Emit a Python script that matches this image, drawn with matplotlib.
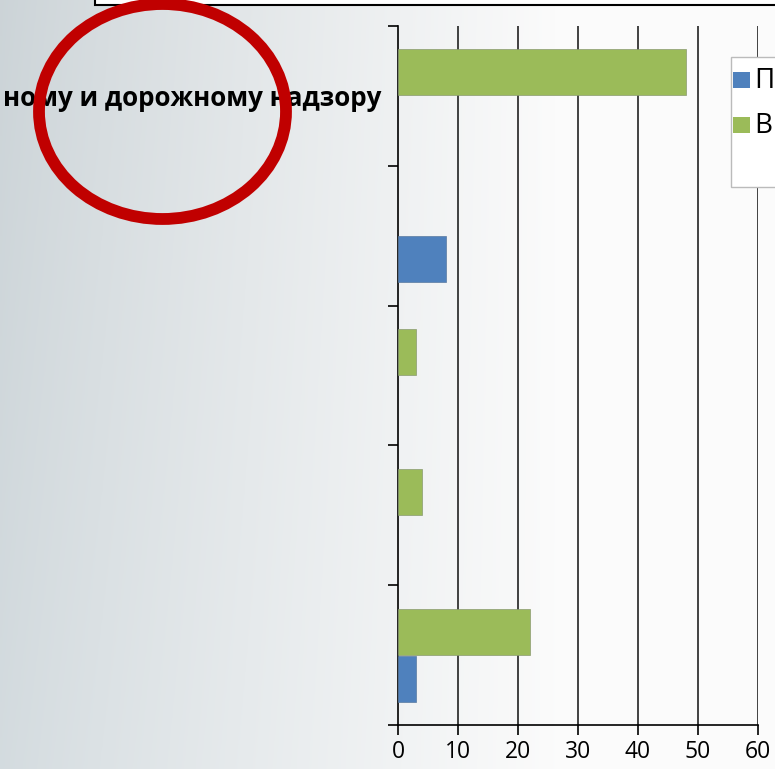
import numpy as np
import matplotlib
matplotlib.use('Agg')
import matplotlib.pyplot as plt
from matplotlib.patches import Rectangle, Ellipse

plt.rcParams['font.family'] = ['Open Sans', 'DejaVu Sans']

# данные
categories = ['ному и дорожному надзору', '', '', '', '']
series_names = ['П', 'В']
blue_vals = [0, 8, 0, 0, 3]
green_vals = [48, 0, 3, 4, 22]
colors = ['#4F81BD', '#9BBB59']
x_ticks = [0, 10, 20, 30, 40, 50, 60]

W, H = 775, 769
fig = plt.figure(figsize=(W / 100, H / 100), dpi=100)


def px(x, y):
    # пиксели (от левого верхнего угла) -> доли фигуры
    return x / W, 1 - y / H


# фон слайда (серый градиент)
bg = fig.add_axes([0, 0, 1, 1], zorder=-10)
xs = np.linspace(0, 1, 300)
ys = np.linspace(0, 1, 300)
gx, gy = np.meshgrid(xs, ys)
left = np.array([0.80, 0.83, 0.845])
right = np.array([0.985, 0.985, 0.985])
t = np.clip(gx / 0.72, 0, 1) ** 0.9
img = left[None, None, :] * (1 - t[..., None]) + right[None, None, :] * t[..., None]
img = img + 0.03 * (gy[..., None]) * (1 - t[..., None])
bg.imshow(np.clip(img, 0, 1), aspect='auto', extent=[0, 1, 0, 1])
bg.axis('off')

# диаграмма
ax = fig.add_axes([398 / W, 44 / H, (758 - 398) / W, (725 - 26) / H])
ax.set_facecolor('none')
y = np.arange(len(categories))
h = 0.33
g = np.array(green_vals)
b = np.array(blue_vals)
ax.barh(y - 0.168, g, height=h, color=colors[1],
        edgecolor=['#8a9a70' if v > 0 else 'none' for v in g],
        linewidth=0.5, zorder=3, label=series_names[1])
ax.barh(y + 0.168, b, height=h, color=colors[0],
        edgecolor=['#5a7aa0' if v > 0 else 'none' for v in b],
        linewidth=0.5, zorder=3, label=series_names[0])

ax.set_xlim(0, 60)
ax.set_ylim(len(categories) - 0.5, -0.5)
ax.set_xticks(x_ticks)
ax.set_xticklabels([str(v) for v in x_ticks], fontsize=16.5)
ax.tick_params(axis='x', direction='out', length=7, width=1.2, pad=4, colors='black')

ax.set_yticks(np.arange(len(categories) + 1) - 0.5)
ax.set_yticklabels([])
ax.tick_params(axis='y', which='major', direction='out', length=7, width=1.2)
ax.set_yticks(y, minor=True)
ax.set_yticklabels(categories, minor=True, fontsize=18.7, fontweight='bold')
ax.tick_params(axis='y', which='minor', length=0, pad=12)

for v in x_ticks[1:]:
    ax.axvline(v, color='#222222', linewidth=1.2, zorder=1)
for s in ['top', 'right']:
    ax.spines[s].set_visible(False)
for s in ['left', 'bottom']:
    ax.spines[s].set_linewidth(1.2)
    ax.spines[s].set_color('black')

# легенда (обрезана краем слайда)
x0, y0 = px(731, 187)
x1, y1 = px(790, 57)
fig.add_artist(Rectangle((x0, y0), x1 - x0, y1 - y0, transform=fig.transFigure,
                         facecolor='white', edgecolor='#bbbbbb', linewidth=1, zorder=5))
for i, (name, c) in enumerate(zip(series_names, colors)):
    top = 72 + 45 * i
    sx, sy = px(733, top + 16)
    fig.add_artist(Rectangle((sx, sy), 17 / W, 16 / H, transform=fig.transFigure,
                             facecolor=c, edgecolor='none', zorder=6))
    tx, ty = px(754, top + 9)
    fig.text(tx, ty, name, fontsize=20, va='center', ha='left', zorder=7)

# рамка заголовка сверху
bx, by = px(95, 5)
fig.add_artist(Rectangle((bx, by), 1, 0.05, transform=fig.transFigure,
                         facecolor='white', edgecolor='black', linewidth=1.5, zorder=5))

# красный овал
cx, cy = px(162.5, 111.5)
fig.add_artist(Ellipse((cx, cy), 247 / W, 215 / H, transform=fig.transFigure,
                       facecolor='none', edgecolor='#C00000', linewidth=8.5, zorder=8))

fig.savefig('out.png', dpi=100)
